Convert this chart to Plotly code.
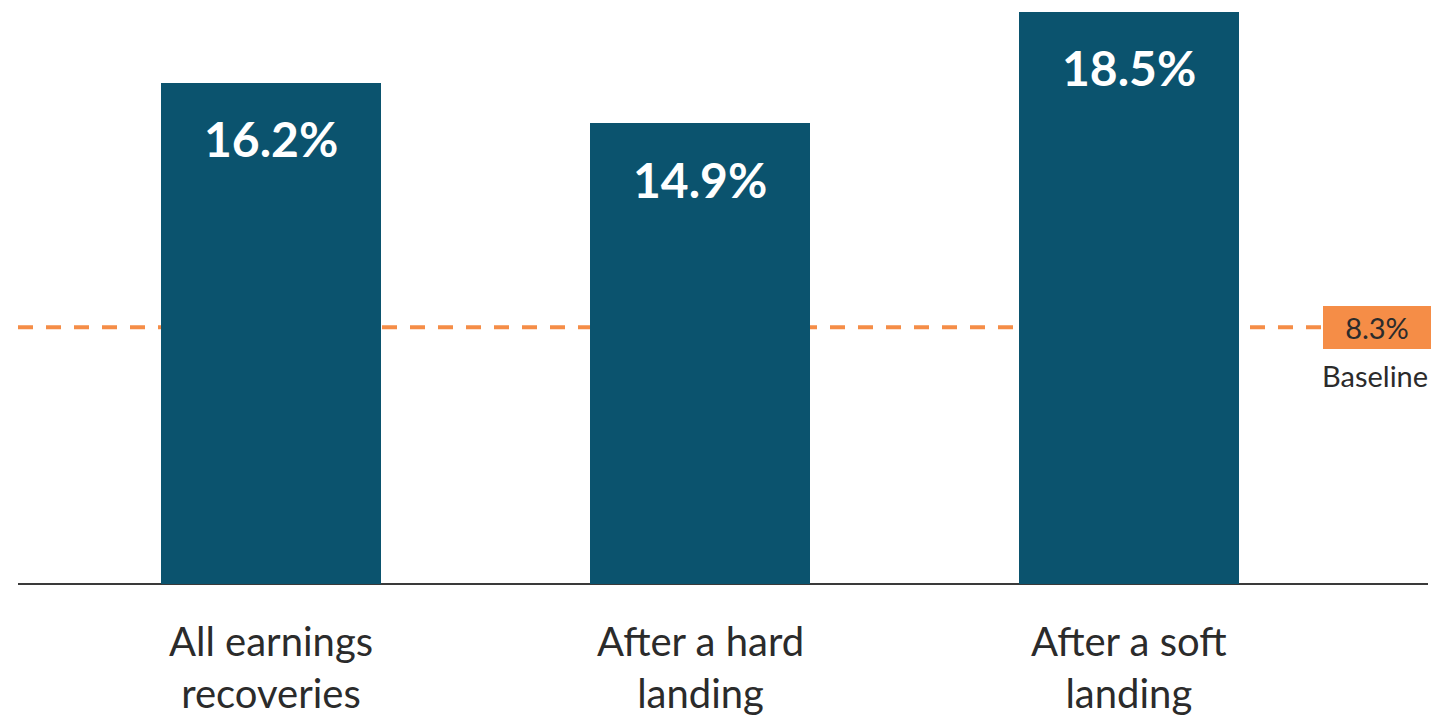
import plotly.graph_objects as go

categories = ["All earnings<br>recoveries", "After a hard<br>landing", "After a soft<br>landing"]
values = [16.2, 14.9, 18.5]
value_labels = ["16.2%", "14.9%", "18.5%"]
baseline_value = 8.3
baseline_label = "8.3%"
baseline_name = "Baseline"

BAR_COLOR = "#0B536E"
ORANGE = "#F58D47"
TEXT = "#2B2B2B"
FONT = "Lato, 'Open Sans', sans-serif"

xpos = list(range(len(categories)))

fig = go.Figure()
fig.add_trace(go.Bar(
    x=xpos, y=values, width=0.513,
    marker=dict(color=BAR_COLOR, line=dict(width=0)),
    hoverinfo="skip", showlegend=False,
))

for xi, v, lab in zip(xpos, values, value_labels):
    fig.add_annotation(
        x=xi, y=v, xref="x", yref="y", text=f"<b>{lab}</b>",
        showarrow=False, yanchor="middle", yshift=-56,
        font=dict(family=FONT, size=48, color="white"),
    )

for xi, cat in zip(xpos, categories):
    fig.add_annotation(
        x=xi, y=0, xref="x", yref="y", text=cat,
        showarrow=False, yanchor="middle", yshift=-83,
        font=dict(family=FONT, size=40, color=TEXT),
    )

fig.add_shape(
    type="line", xref="paper", yref="y",
    x0=0, x1=0.9255, y0=baseline_value, y1=baseline_value,
    line=dict(color=ORANGE, width=4, dash="15px,13px"),
    layer="below",
)

fig.add_annotation(
    xref="paper", yref="y", x=0.9638, y=baseline_value,
    text=baseline_label, showarrow=False, xanchor="center", yanchor="middle",
    font=dict(family=FONT, size=29, color=TEXT),
    bgcolor=ORANGE, bordercolor=ORANGE, borderwidth=1, borderpad=4,
    width=98, height=33,
)
fig.add_annotation(
    xref="paper", yref="y", x=0.9625, y=baseline_value,
    text=baseline_name, showarrow=False, xanchor="center", yanchor="middle",
    yshift=-48,
    font=dict(family=FONT, size=29, color=TEXT),
)

fig.update_layout(
    width=1445, height=721,
    margin=dict(l=18, r=17, t=0, b=137, pad=0),
    paper_bgcolor="white", plot_bgcolor="white",
    bargap=0,
    xaxis=dict(
        range=[-0.59, 2.697], tickmode="array", tickvals=xpos,
        showgrid=False, zeroline=False, showline=False, ticks="",
        showticklabels=False,
    ),
    yaxis=dict(
        range=[0, 18.88], showgrid=False, zeroline=True, zerolinecolor="#3a3a3a",
        zerolinewidth=2, showticklabels=False, showline=False, ticks="",
    ),
)

fig.write_html("out.html")
